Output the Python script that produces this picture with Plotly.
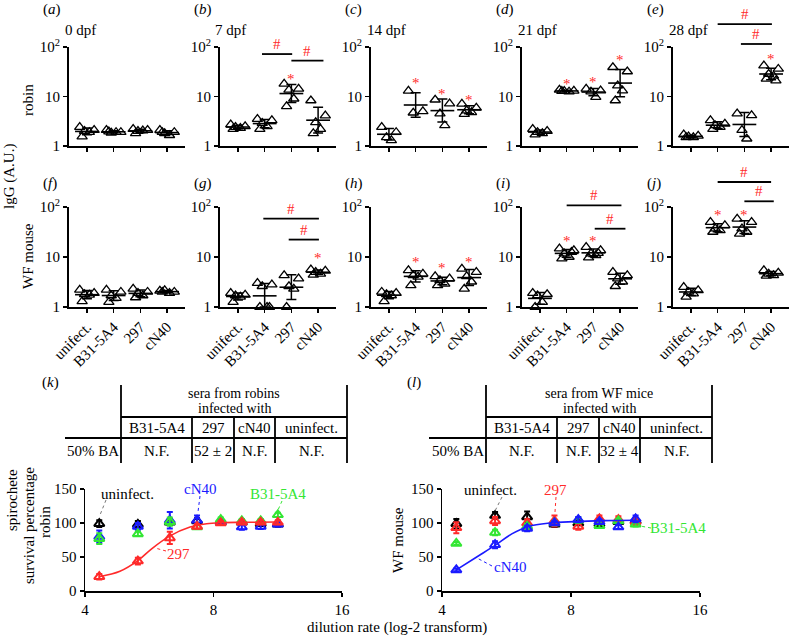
import numpy as np
import plotly.graph_objects as go

W, H = 794, 636
FONT = "Liberation Serif"
FS = 15
RED = "#ff2a2a"
BLUE = "#1a1aff"
GREEN = "#33e633"
BLACK = "#000000"

# ---------------- data ----------------
CATS = ["unifect.", "B31-5A4", "297", "cN40"]
DAYS = ["0 dpf", "7 dpf", "14 dpf", "21 dpf", "28 dpf"]
TOP_LETTERS = ["a", "b", "c", "d", "e"]
BOT_LETTERS = ["f", "g", "h", "i", "j"]

# IgG (A.U.) robin
robin_0dpf = [[2.4, 2.1, 2.0, 1.9, 1.55], [2.1, 1.9, 1.85, 1.9, 1.95], [2.2, 2.1, 2.0, 2.05, 1.8], [2.1, 1.9, 1.8, 1.65, 1.9]]
robin_7dpf = [[2.7, 2.5, 2.4, 2.3, 2.2], [3.5, 3.3, 2.9, 2.5, 2.2], [18, 14.3, 13.6, 9.0, 6.3], [8.3, 4.1, 3.0, 2.2, 1.8]]
robin_14dpf = [[2.4, 1.9, 1.5, 1.3], [13, 5.0, 4.7], [8.6, 7.2, 4.5, 2.6], [7.1, 5.9, 5.2, 4.8, 4.4]]
robin_21dpf = [[2.2, 2.0, 1.9, 1.8, 1.7], [13.6, 13.0, 12.8, 12.5, 12.9], [14.3, 13.2, 12.5, 9.7], [39, 32, 16.6, 13.2, 8.3]]
robin_28dpf = [[1.7, 1.6, 1.55, 1.5, 1.5], [3.3, 2.8, 2.6, 2.4, 2.2], [4.5, 4.15, 2.1, 1.4], [42, 36, 28.5, 26, 22.7, 21]]
# IgG (A.U.) WF mouse
mouse_0dpf = [[2.2, 1.9, 1.8, 1.75, 1.3], [2.2, 2.0, 1.7, 1.5, 1.25], [2.3, 2.0, 1.9, 1.7, 1.55], [2.1, 2.0, 2.15, 1.9, 2.0]]
mouse_7dpf = [[1.9, 1.75, 1.7, 1.6, 1.25], [3.0, 2.8, 2.6, 1.0, 1.0, 1.0], [4.3, 3.7, 2.6, 2.3, 1.0], [5.6, 5.3, 5.0, 4.6, 4.4]]
mouse_14dpf = [[2.0, 1.9, 1.8, 1.7, 1.3], [5.4, 4.6, 4.3, 4.0, 2.7], [4.1, 3.7, 3.4, 2.9, 2.7], [5.8, 5.0, 4.1, 3.2, 2.3]]
mouse_21dpf = [[1.9, 1.8, 1.7, 1.25, 1.0], [14.7, 13.6, 11.7, 10.0, 9.3, 12.5], [15.8, 13.6, 11.7, 10.8, 9.7, 12.0], [5.0, 4.3, 3.7, 3.2, 2.6]]
mouse_28dpf = [[2.5, 2.15, 2.0, 1.85, 1.6], [50, 43, 37, 34, 31.6], [58, 50, 37, 31.6, 29], [5.4, 4.8, 4.6, 4.3, 4.2]]

robin_panels = [robin_0dpf, robin_7dpf, robin_14dpf, robin_21dpf, robin_28dpf]
mouse_panels = [mouse_0dpf, mouse_7dpf, mouse_14dpf, mouse_21dpf, mouse_28dpf]

# significance marks: (category, value)
robin_stars = [[], [(2, 26)], [(1, 22), (2, 13), (3, 9.7)], [(1, 21), (2, 23), (3, 62)], [(3, 67)]]
mouse_stars = [[], [(3, 10.8)], [(1, 9.2), (2, 6.8), (3, 9.2)], [(1, 24), (2, 24)], [(1, 79), (2, 79)]]
# '#' bars: (from category, to category, value)
robin_hash = [[], [(0.9, 2.03, 72), (2.0, 3.2, 53)], [], [], [(1.0, 3.03, 290), (1.87, 3.03, 115)]]
mouse_hash = [[], [(0.95, 3.03, 58.5), (1.9, 3.03, 22.3)], [], [(1.0, 3.05, 108), (2.05, 3.2, 36.8)], [(1.0, 3.0, 316), (2.0, 3.1, 130)]]

# serum bactericidal curves
DIL = [4.32, 5.32, 6.32, 7.32, 8.32, 9.32, 10.32, 11.32]
robin_uninf = [99, 98, 101, 103, 101, 101, 99, 98]
robin_uninf_err = [5, 5, 4, 4, 3, 3, 3, 3]
robin_cN40 = [80, 95, 104, 104, 102, 94, 95, 98]
robin_cN40_err = [9, 5, 12, 7, 3, 4, 4, 3]
robin_B31 = [77, 84, 102, 94, 105, 103, 103, 112]
robin_B31_err = [8, 3, 6, 3, 3, 3, 3, 3]
robin_297 = [21, 44, 78, 95, 100, 101, 101, 101]
robin_297_err = [4, 5, 9, 3, 3, 3, 3, 3]
robin_fit_x = [4.32, 4.83, 5.33, 5.73, 6.33, 7.05, 7.71, 8.28, 9.5, 11.32]
robin_fit_y = [21, 29, 45, 62, 81, 94, 99, 100.5, 101, 101.5]

mouse_uninf = [99, 111, 109, 98, 100, 99, 102, 103]
mouse_uninf_err = [7, 5, 8, 4, 3, 3, 3, 3]
mouse_297 = [93, 103, 100, 103, 95, 106, 105, 102]
mouse_297_err = [8, 6, 5, 8, 5, 5, 5, 5]
mouse_B31 = [70, 86, 95, 100, 104, 96, 103, 98]
mouse_B31_err = [2, 4, 4, 3, 4, 3, 3, 3]
mouse_cN40 = [31, 68, 92, 100, 105, 102, 94, 106]
mouse_cN40_err = [2, 5, 4, 3, 4, 3, 3, 5]
mouse_fit_x = [4.32, 4.82, 5.32, 5.82, 6.37, 7.16, 8.11, 9.5, 11.32]
mouse_fit_y = [31, 50, 67, 84, 95, 100, 102, 103.5, 104]

TABLE_COLS = ["B31-5A4", "297", "cN40", "uninfect."]
robin_BA = ["N.F.", "52 ± 2", "N.F.", "N.F."]
mouse_BA = ["N.F.", "N.F.", "32 ± 4", "N.F."]

# ---------------- geometry (pixels) ----------------
COL_X0 = 68.5
COL_STEP = 151
PANEL_W = 116.5
XR = [-0.69, 3.67]
ROW_Y = [(47, 146), (207, 307)]
OFFS = [-0.27, 0.27, -0.09, 0.09, -0.18, 0.18]


def PX(x):
    return x / W


def PY(y):
    return 1 - y / H


def sfx(i):
    return "" if i == 1 else str(i)


fig = go.Figure()
layout = {}
annotations = []
shapes = []

axis_common = dict(showline=True, linewidth=1.5, linecolor="black", ticks="outside", ticklen=4,
                   tickwidth=1.3, tickcolor="black", showgrid=False, zeroline=False, automargin=False,
                   tickfont=dict(family=FONT, size=FS, color="black"), fixedrange=True)


def dot_px(r, c, cat, val):
    x0 = COL_X0 + COL_STEP * c
    xp = x0 + (cat - XR[0]) / (XR[1] - XR[0]) * PANEL_W
    yt, yb = ROW_Y[r]
    yp = yb - np.log10(val) / 2.0 * (yb - yt)
    return xp, yp


def text(x, y, s, size=FS, color="black", xanchor="center", angle=0, yshift=0):
    annotations.append(dict(x=PX(x), y=PY(y), xref="paper", yref="paper", text=s, showarrow=False,
                            xanchor=xanchor, yanchor="middle", textangle=angle, yshift=yshift,
                            font=dict(family=FONT, size=size, color=color)))


def line(x0, y0, x1, y1, width=1.8, color="black", dash="solid"):
    shapes.append(dict(type="line", xref="paper", yref="paper", x0=PX(x0), y0=PY(y0), x1=PX(x1), y1=PY(y1),
                       line=dict(color=color, width=width, dash=dash)))


for r, panels in enumerate([robin_panels, mouse_panels]):
    stars = robin_stars if r == 0 else mouse_stars
    hashes = robin_hash if r == 0 else mouse_hash
    letters = TOP_LETTERS if r == 0 else BOT_LETTERS
    for c in range(5):
        idx = r * 5 + c + 1
        x0 = COL_X0 + COL_STEP * c
        yt, yb = ROW_Y[r]
        layout["xaxis" + sfx(idx)] = dict(axis_common, domain=[PX(x0), PX(x0 + PANEL_W)], range=XR,
                                          tickvals=[0, 1, 2, 3], ticktext=CATS, showticklabels=(r == 1),
                                          tickangle=-45, anchor="y" + sfx(idx))
        layout["yaxis" + sfx(idx)] = dict(axis_common, type="log", domain=[PY(yb), PY(yt)], range=[0, 2],
                                          tickvals=[1, 10, 100], ticktext=["1", "10", "10<sup>2</sup>"],
                                          anchor="x" + sfx(idx))
        data = panels[c]
        for g, vals in enumerate(data):
            vals = np.array(vals, dtype=float)
            n = len(vals)
            xs = g + np.array(OFFS[:n])
            fig.add_trace(go.Scatter(x=xs, y=vals, mode="markers", xaxis="x" + sfx(idx), yaxis="y" + sfx(idx),
                                     marker=dict(symbol="triangle-up-open", size=9, color="black",
                                                 line=dict(width=1.3, color="black")),
                                     cliponaxis=False, showlegend=False, hoverinfo="skip"))
            logs = np.log10(vals)
            m = logs.mean()
            s = logs.std(ddof=1)
            gm = 10 ** m
            hi = 10 ** (m + s)
            lo = max(10 ** (m - s), 1.0)
            fig.add_trace(go.Scatter(x=[g], y=[gm], mode="markers", xaxis="x" + sfx(idx), yaxis="y" + sfx(idx),
                                     marker=dict(symbol="line-ew", size=17, color="black",
                                                 line=dict(width=1.6, color="black")),
                                     error_y=dict(type="data", symmetric=False, array=[hi - gm],
                                                  arrayminus=[gm - lo], width=5, thickness=1.5, color="black"),
                                     cliponaxis=False, showlegend=False, hoverinfo="skip"))
        # panel letters / titles
        ly = 10 if r == 0 else 184
        text(x0 - 28, ly, "(<i>%s</i>)" % letters[c], xanchor="left")
        if r == 0:
            text(x0 - 6, 30, DAYS[c], xanchor="left")
        for cat, val in stars[c]:
            xp, yp = dot_px(r, c, cat, val)
            text(xp, yp, "*", color=RED, yshift=-3)
        for a, b, val in hashes[c]:
            xa, yp = dot_px(r, c, a, val)
            xb, _ = dot_px(r, c, b, val)
            line(xa, yp, xb, yp, width=1.8)
            text((xa + xb) / 2, yp - 10, "#", color=RED)

# axis side titles for dot plots
text(28, 100, "robin", angle=-90)
text(28, 256, "WF mouse", angle=-90)
text(9, 177, "lgG (A.U.)", angle=-90)

# ---------------- curve panels ----------------
CURVE_X = [(85, 342), (442, 700)]
CURVE_Y = (489, 591)
curve_sets = [
    [(robin_uninf, robin_uninf_err, BLACK), (robin_cN40, robin_cN40_err, BLUE),
     (robin_B31, robin_B31_err, GREEN), (robin_297, robin_297_err, RED)],
    [(mouse_uninf, mouse_uninf_err, BLACK), (mouse_297, mouse_297_err, RED),
     (mouse_B31, mouse_B31_err, GREEN), (mouse_cN40, mouse_cN40_err, BLUE)],
]
fits = [(robin_fit_x, robin_fit_y, RED), (mouse_fit_x, mouse_fit_y, BLUE)]
for k in range(2):
    idx = 11 + k
    xa0, xa1 = CURVE_X[k]
    layout["xaxis" + sfx(idx)] = dict(axis_common, type="log", domain=[PX(xa0), PX(xa1)],
                                      range=[np.log10(4), np.log10(16)], tickvals=[4, 8, 16],
                                      ticktext=["4", "8", "16"], anchor="y" + sfx(idx))
    layout["yaxis" + sfx(idx)] = dict(axis_common, domain=[PY(CURVE_Y[1]), PY(CURVE_Y[0])], range=[0, 150],
                                      tickvals=[0, 50, 100, 150], anchor="x" + sfx(idx))
    fx, fy, fc = fits[k]
    for vals, errs, col in curve_sets[k]:
        fig.add_trace(go.Scatter(x=DIL, y=vals, mode="markers", xaxis="x" + sfx(idx), yaxis="y" + sfx(idx),
                                 marker=dict(symbol="triangle-up-open", size=9, color=col,
                                             line=dict(width=2, color=col)),
                                 error_y=dict(type="data", array=errs, width=3, thickness=2, color=col),
                                 cliponaxis=False, showlegend=False, hoverinfo="skip"))
        if col == fc:
            fig.add_trace(go.Scatter(x=fx, y=fy, mode="lines", line=dict(color=fc, width=1.6, shape="spline"),
                                     xaxis="x" + sfx(idx), yaxis="y" + sfx(idx), showlegend=False,
                                     hoverinfo="skip"))

# curve labels and leader lines
text(127, 494, "uninfect.", color=BLACK)
line(106, 500, 100, 515, width=1, color="#777777", dash="dot")
text(200, 489, "cN40", color=BLUE)
line(200, 496, 198, 512, width=1, color=BLUE, dash="dot")
text(278, 494, "B31-5A4", color=GREEN)
line(282, 501, 278, 510, width=1, color=GREEN, dash="dot")
text(178, 554, "297", color=RED)
line(166, 551, 155, 548, width=1, color=RED, dash="dot")

text(490, 490, "uninfect.", color=BLACK)
line(502, 497, 495, 511, width=1, color="#777777", dash="dot")
text(555, 490, "297", color=RED)
line(556, 497, 555, 512, width=1, color=RED, dash="dot")
text(678, 528, "B31-5A4", color=GREEN)
line(651, 528, 640, 526, width=1, color=GREEN, dash="dot")
text(510, 567, "cN40", color=BLUE)
line(492, 566, 477, 558, width=1, color=BLUE, dash="dot")

text(12, 500, "spirochete", angle=-90)
text(29, 526, "survival percentage", angle=-90)
text(45, 522, "robin", angle=-90)
text(398, 540, "WF mouse", angle=-90)
text(397, 627, "dilution rate (log-2 transform)")

# panel letters for k and l
text(40, 382, "(<i>k</i>)", xanchor="left")
text(405, 382, "(<i>l</i>)", xanchor="left")

# ---------------- tables ----------------
tables = [
    dict(cols=[121, 192, 234, 275, 347], hdr_left=65, title=("sera from robins", "infected with"), ba=robin_BA),
    dict(cols=[486, 557, 599, 640, 712], hdr_left=429, title=("sera from WF mice", "infected with"), ba=mouse_BA),
]
T_TOP, T_H1, T_H2, T_BOT = 385, 417, 438, 463
for t in tables:
    cols = t["cols"]
    line(cols[0], T_TOP, cols[0], T_BOT)
    line(cols[-1], T_TOP, cols[-1], T_BOT)
    line(cols[0], T_H1, cols[-1], T_H1)
    line(t["hdr_left"], T_H2, cols[-1], T_H2)
    for cx in cols[1:-1]:
        line(cx, T_H1, cx, T_BOT)
    cxt = (cols[0] + cols[-1]) / 2
    text(cxt, 393, t["title"][0], size=14)
    text(cxt, 408, t["title"][1], size=14)
    for j in range(4):
        cxm = (cols[j] + cols[j + 1]) / 2
        text(cxm, 428, TABLE_COLS[j])
        text(cxm, 451, t["ba"][j])
    text((t["hdr_left"] + cols[0]) / 2, 451, "50% BA")

layout.update(width=W, height=H, autosize=False,
              margin=dict(l=0, r=0, t=0, b=0, pad=0, autoexpand=False),
              paper_bgcolor="white", plot_bgcolor="white", showlegend=False,
              annotations=annotations, shapes=shapes, font=dict(family=FONT, size=FS, color="black"))
fig.update_layout(**layout)
fig.write_html("out.html", config={"displayModeBar": False, "staticPlot": True},
               post_script="document.body.style.margin='0px';document.body.style.overflow='hidden';")
